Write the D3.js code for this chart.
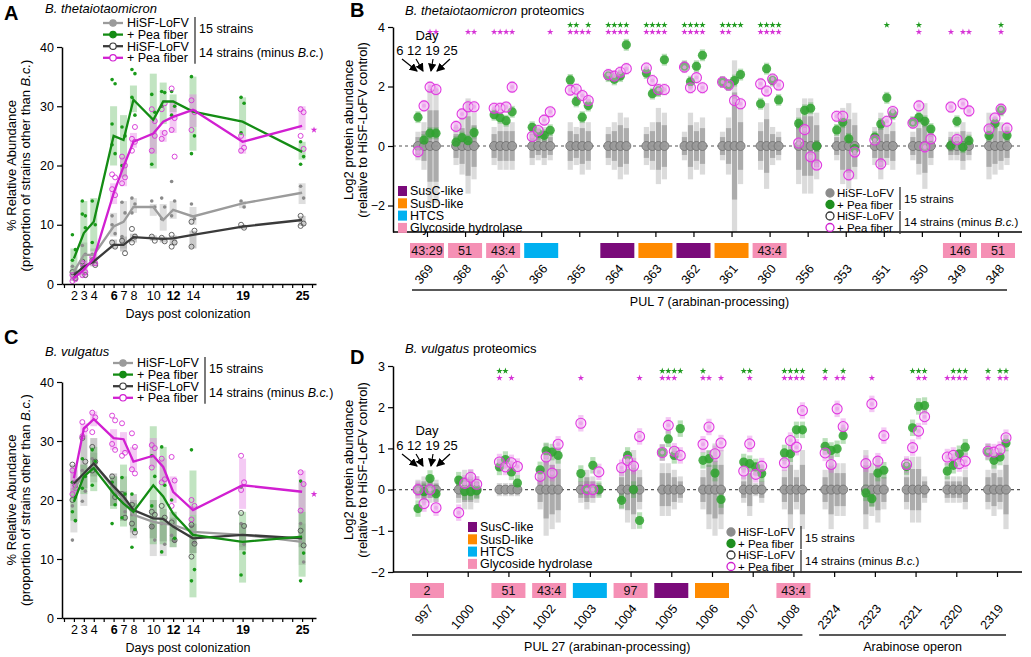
<!DOCTYPE html>
<html>
<head>
<meta charset="utf-8">
<script src="https://cdn.jsdelivr.net/npm/d3@7"></script>
<style>
  body { margin: 0; background: #fff; }
  svg { font-family: Arial, "Liberation Sans", sans-serif; }
</style>
</head>
<body>
<svg id="chart" width="1031" height="657"></svg>
<script>
/**
 * DATA
 * */
const tcDays = [2, 3, 4, 6, 7, 8, 10, 11, 12, 14, 19, 25];
const tcTickDays = [2, 3, 4, 6, 7, 8, 10, 12, 14, 19, 25];
const tcBoldDays = [6, 12, 19, 25];

// Panel A - B. thetaiotaomicron relative abundance (means)
const thetaHisf15 = [2.1, 4.9, 4.9, 9.7, 10.5, 13.0, 13.0, 10.8, 12.5, 11.4, 13.6, 15.4];
const thetaPea15  = [4.3, 8.6, 10.5, 25.0, 24.3, 31.1, 27.7, 30.8, 30.8, 29.1, 27.4, 22.3];
const thetaHisf14 = [1.5, 2.9, 3.8, 6.6, 6.6, 7.9, 7.7, 7.6, 7.7, 8.3, 9.7, 10.8];
const thetaPea14  = [1.0, 2.4, 4.3, 15.3, 19.8, 24.0, 25.4, 27.4, 28.2, 29.4, 24.0, 26.7];
// ranges [lo, hi]
const thetaHisf15Box = [[1.5,3],[3,7],[4,6],[8,12],[6,14],[12,14.5],[11.5,13.5],[9,13.5],[11,14],[10,13],[12.8,14],[13.5,17]];
const thetaPea15Box  = [[0.5,6],[4,14],[5.5,14.5],[20,30],[18,28.5],[29,33.5],[19.5,35.5],[27,34],[29,32],[22.5,35],[25,31.5],[21,24]];
const thetaHisf14Box = [[0.8,2],[1.5,4],[3,4.5],[6,7.5],[5.5,8],[7,8.5],[7.3,8.2],[7,8],[6.5,8.2],[6,9],[9.3,10],[9.8,11.5]];
const thetaPea14Box  = [[0.5,2],[1,4],[3,5],[13.5,17],[16.5,21.5],[23,25.5],[22,28],[24,26],[25.5,31],[26.5,32],[22,25],[26,30]];
// replicate mice
const thetaHisf15Dots = [[3,2],[6.5,5,3],[5],[11.5,8.5,10],[13.8,12,8],[14.5,13.5,12],[14,13],[14.5,13,11],[17.3,14,11.5],[13.5,11],[14,13],[16.5,14.5]];
const thetaPea15Dots  = [[8.3,5.8,4],[14,11.5,11.8,9.5],[14,10,7],[34.5,33.8,27,22,23.5],[26.5,25,20],[36.2,35.5,31.5,28.5],[32,29,20.2],[32.5,32.3,30],[32.5,30,28.5],[35,25,22],[31.5,30.5,25.5],[24,21.5,20.2]];
const thetaHisf14Dots = [[2,1],[3.8,1.5],[4,3.2],[7,6.3],[7.3,5.2],[9.3,8,7],[8,7.3],[7.8,7.2],[8.3,7,6.3],[10.5,9,6.3],[10,9.5],[11.5,10.2,9.8]];
const thetaPea14Dots  = [[1.5,0.8,0.5],[3.5,2,1.5],[4.5,3.5],[18.5,18,16,15],[21.5,20,17,18],[24.5,24,22.5,26.5],[29.5,25,22.5,27.5],[29.5,25.5,24.5,30.5],[33,28,26,21.5],[31,29,26],[25,23,22.5],[29.5,29,25,22.8]];

// Panel C - B. vulgatus relative abundance
const vulgHisf15 = [21.7, 24.5, 26.2, 22.0, 20.0, 17.5, 16.3, 16.0, 15.8, 14.6, 14.1, 12.9];
const vulgPea15  = [19.7, 24.0, 25.4, 21.1, 19.4, 18.0, 22.5, 20.6, 17.7, 14.1, 12.9, 13.8];
const vulgHisf14 = [22.8, 24.5, 26.2, 22.3, 20.6, 18.3, 16.9, 16.8, 15.5, 13.5, 14.1, 13.5];
const vulgPea14  = [23.7, 32.1, 33.7, 30.5, 30.3, 26.5, 27.5, 25.6, 21.4, 18.3, 22.5, 21.4];
const vulgHisf15Box = [[14.5,20],[19,26],[23,28],[19,24],[16.5,24],[13.5,20],[10.5,16],[10.5,17],[12,18],[11,17.5],[12,16],[9,16]];
const vulgPea15Box  = [[16.5,22],[21,26],[21.5,29],[18.5,24],[15.5,26],[15,19.5],[12.5,32.5],[12.5,29],[12,18],[3.5,25],[6,18],[7,23]];
const vulgHisf14Box = [[20,26],[22,31],[24,30.5],[19,24.5],[16.5,21.5],[14.5,21],[13.5,20],[13,18.5],[13,17],[11,16],[11.5,16],[12,18]];
const vulgPea14Box  = [[21,25],[31,33],[32.5,35],[28.5,32],[28,31.5],[25,29],[25.5,30.5],[23,27],[19.5,24],[17.5,19],[18.5,27],[18,25]];
const vulgHisf15Dots = [[19,16.5,13.2],[25,21.5,19.8],[27,25],[23,21],[20.5,18],[17.5,15],[15.5,13.2],[16,12.5],[14,13],[15.5,12.8],[16,12.5],[16,9.5]];
const vulgPea15Dots  = [[23,20.5,18,16.5],[27,24,22],[28.5,26.5,22.5],[23,19.2,16],[23.8,21,17],[21,15,12],[27.5,24,19],[29,22.5,11.2],[20,13.5],[28.5,8.2,6.3],[22.2,11,7.3],[23.2,11,6.3]];
const vulgHisf14Dots = [[26,22.5,20],[30.5,26.5],[29,26.5,25],[24,20.5],[21,17],[19.2,14.5,16],[18,17.5,15.5],[19,17],[16.2,13.2],[15.8,12.6,10.4],[17.8,15.6],[14.8,12.3]];
const vulgPea14Dots  = [[25,23,21,22],[33.2,32,30.8],[34.8,34,31.5],[34.3,33.5,29.5,28.5],[33,28,27.5],[31.3,29,25.2,24.5],[29.3,28.8,25.5],[27,23.5,23],[27.3,23.3,19],[20,19,16.7],[27.5,23,21.7],[24.7,22.7,18.2]];

// Panels B / D - proteomics, log2 fold change vs HiSF-LoFV, days 6 12 19 25
const protDays = ["6", "12", "19", "25"];

const thetaGenes = ["369","368","367","366","365","364","363","362","361","360","356","353","351","350","349","348"];
const thetaBoxes = ["43:29","51","43:4","HTCS","","SusC","SusD","SusC","SusD","43:4","","","","","146","51"];
const thetaGreen = [
  [0.97, 0.20, 0.43, 0.43], [0.13, 0.28, 0.18, 0.45], [1.05, 0.95, 0.85, 1.15], [0.63, 0.42, 0.36, 0.53],
  [2.22, 1.50, 0.97, 1.36], [2.35, 2.24, 2.35, 3.40], [2.45, 1.76, 1.85, 2.90], [2.68, 2.16, 2.68, 3.05],
  [2.15, 2.05, 2.20, 2.40], [1.42, 2.60, 2.20, 1.55], [0.76, 1.20, 1.27, 0.00], [0.54, 0.80, 0.24, -0.09],
  [0.30, 0.74, 1.62, 1.07], [0.80, 0.96, 0.83, 0.57], [0.02, 0.83, -0.04, 0.18], [0.35, 0.76, 1.20, 0.35]
];
const thetaMag = [
  [-0.19, 1.35, 1.98, 1.90], [0.66, 1.08, 1.32, 1.32], [1.27, 1.27, 1.31, 1.98], [0.32, 0.52, 0.87, 1.15],
  [1.88, 1.91, 1.70, 1.53], [2.40, 2.35, 2.48, 2.60], [2.62, 2.20, 1.90, 1.90], [2.65, 1.96, 2.30, 1.96],
  [2.15, 2.05, 1.53, 1.42], [2.09, 1.85, 2.25, 2.05], [0.10, 0.55, -0.36, -0.64], [1.00, 1.00, -0.97, -0.20],
  [0.20, -0.60, 0.83, 1.16], [0.77, 1.35, -0.03, 0.24], [1.31, 0.22, 1.42, 1.18], [0.57, 0.94, 1.24, 0.60]
];
const thetaGreySpread = [
  [0.3,0.5,1.2,1.2],[0.4,0.6,1.0,0.7],[0.4,0.5,0.5,0.5],[0.4,0.3,0.4,0.3],[0.5,0.4,0.6,0.5],[0.4,0.5,0.7,0.6],
  [0.4,0.5,0.8,0.7],[0.3,0.7,0.5,0.6],[0.3,0.6,1.8,0.8],[0.5,0.9,0.4,0.3],[0.8,1.0,1.0,0.7],[0.3,0.8,0.9,0.7],
  [0.4,0.7,0.4,0.5],[0.3,0.6,0.9,0.4],[0.3,0.3,0.5,0.3],[0.7,0.6,0.5,0.4]
];
const thetaGreenStars = ["0000","0000","0000","0000","1101","1111","1111","1111","1111","1111","0000","0000","0010","0100","0000","0010"];
const thetaMagStars   = ["0011","0011","1111","0001","1111","1111","1111","1111","1100","1111","0000","0000","0000","0100","1011","0010"];

const vulgGenes = ["997","1000","1001","1002","1003","1004","1005","1006","1007","1008","2324","2323","2321","2320","2319"];
const vulgBoxes = ["2","","51","43:4","HTCS","97","SusC","SusD","","43:4","","","","",""];
const vulgGreen = [
  [-0.46, -0.05, 0.27, -0.10], [0.23, -0.05, -0.05, -0.03], [0.55, 0.73, 0.43, 0.16], [0.48, 0.94, 0.91, 0.83],
  [0.39, 0.00, 0.59, 0.00], [-0.26, 0.83, 0.00, -0.75], [0.90, 1.23, 0.83, 1.48], [0.71, 0.75, 0.40, -0.24],
  [0.67, 0.63, 0.55, 0.39], [0.89, 0.87, 1.45, 1.45], [1.05, 0.95, 0.99, 1.31], [-0.08, -0.22, 0.40, 0.47],
  [0.56, 1.50, 2.02, 2.04], [0.45, 0.59, 0.87, 1.03], [0.91, 0.71, 0.79, 1.13]
];
const vulgMag = [
  [0.00, -0.34, 0.00, -0.44], [-0.56, 0.15, 0.30, 0.13], [0.67, 0.55, 0.65, 0.56], [0.32, 0.79, 0.40, 1.10],
  [1.61, 0.00, 0.00, 0.43], [0.53, 0.71, 0.57, 1.29], [0.90, 1.56, 0.93, 0.83], [1.10, 1.52, 0.87, 1.13],
  [0.45, 1.11, 0.37, 0.57], [0.65, 1.19, 1.03, 1.92], [0.89, 0.61, 1.96, 1.53], [0.63, 2.08, 0.69, 1.31],
  [0.61, 1.02, 1.42, 1.77], [0.79, 0.83, 0.63, 0.69], [0.93, 0.91, 0.97, 1.26]
];
const vulgGreySpread = [
  [0.15,0.2,0.2,0.15],[0.2,0.3,0.3,0.2],[0.1,0.1,0.1,0.1],[0.3,0.7,0.6,0.5],[0.2,0.3,0.2,0.1],
  [0.3,0.5,0.6,0.3],[0.4,0.4,0.3,0.2],[0.3,0.6,0.7,0.6],[0.2,0.4,0.1,0.2],[0.3,0.6,0.3,0.6],
  [0.3,0.6,0.4,0.4],[0.6,0.4,0.5,0.3],[0.3,0.5,0.5,0.2],[0.2,0.2,0.2,0.3],[0.3,0.4,0.3,0.6]
];
const vulgGreenStars = ["0000","0000","1100","0000","0000","0000","1111","1000","1100","1111","1001","0000","0111","0111","1011"];
const vulgMagStars   = ["0000","0000","1010","0000","1000","0001","1110","1101","0100","1111","1011","0100","0011","1111","1011"];

const domainLegend = ["SusC-like", "SusD-like", "HTCS", "Glycoside hydrolase"];

/**
 * STYLE
 * */
const svg = d3.select("#chart");
const domainColor = { SusC: "#7a0a7a", SusD: "#ff8a00", HTCS: "#00b0f0", GH: "#f590b5" };
const legendColor = ["#7a0a7a", "#ff8a00", "#00b0f0", "#f590b5"];
const fmtTick = d => d < 0 ? "\u2212" + (-d) : String(d);

svg.append("defs").append("marker")
  .attr("id", "arr").attr("viewBox", "0 0 8 8").attr("refX", 7).attr("refY", 4)
  .attr("markerWidth", 7).attr("markerHeight", 7).attr("orient", "auto")
  .append("path").attr("d", "M0,0 L8,4 L0,8 Z").attr("fill", "#000");

function styleAxis(sel) {
  sel.select(".domain").attr("stroke", "#000").attr("stroke-width", 1.5);
  sel.selectAll(".tick line").attr("stroke", "#000").attr("stroke-width", 1.2);
  sel.selectAll(".tick text").attr("fill", "#000").attr("font-size", 12.5)
    .attr("font-family", "Arial, 'Liberation Sans', sans-serif");
}

/**
 * TIME COURSE PANELS (A, C)
 * */
function timeCourse(p) {
  const g = svg.append("g");
  const x = d3.scaleLinear([0.8, 26.4], [62, 316]);
  const y = d3.scaleLinear([0, 40], [p.yBottom, p.yTop]);

  const series = [
    { mean: p.hisf15, box: p.hisf15Box, dots: p.hisf15Dots, line: "#9b9b9b", boxFill: "#c8c8c8", boxOp: 0.6, dot: "#8a8a8a", open: false },
    { mean: p.hisf14, box: p.hisf14Box, dots: p.hisf14Dots, line: "#3a3a3a", boxFill: "#8a8a8a", boxOp: 0.45, dot: "#555", open: true },
    { mean: p.pea15, box: p.pea15Box, dots: p.pea15Dots, line: "#148c14", boxFill: "#5cb85c", boxOp: 0.38, dot: "#1a9a1a", open: false },
    { mean: p.pea14, box: p.pea14Box, dots: p.pea14Dots, line: "#d11fd1", boxFill: "#e47ae4", boxOp: 0.4, dot: "#d633d6", open: true }
  ];

  series.forEach(s => {
    g.selectAll(null)
      .data(s.box.map((b, i) => ({ day: tcDays[i], lo: b[0], hi: b[1] })))
      .join("rect")
      .attr("x", d => x(d.day) - 3.5).attr("width", 7)
      .attr("y", d => y(d.hi)).attr("height", d => y(d.lo) - y(d.hi))
      .attr("fill", s.boxFill).attr("opacity", s.boxOp);
  });

  series.forEach(s => {
    const pts = s.dots.flatMap((vals, i) => vals.map((v, k) => ({ day: tcDays[i], v, k })));
    g.selectAll(null).data(pts).join("circle")
      .attr("cx", d => x(d.day) + (d.k % 2 ? 1.5 : -1.5))
      .attr("cy", d => y(d.v))
      .attr("r", s.open ? 2.5 : 1.8)
      .attr("fill", s.open ? "none" : s.dot)
      .attr("stroke", s.open ? s.dot : "none")
      .attr("stroke-width", 0.9);
  });

  const line = d3.line().x((d, i) => x(tcDays[i])).y(d => y(d));
  series.forEach(s => {
    g.append("path").datum(s.mean).attr("d", line)
      .attr("fill", "none").attr("stroke", s.line).attr("stroke-width", 2.3);
  });

  // magenta significance star at the right end
  g.append("path")
    .attr("d", d3.symbol(d3.symbolStar, 14)())
    .attr("transform", `translate(${x(26.2)},${y(p.starValue)})`)
    .attr("fill", "#d633d6");

  // axes
  const ya = g.append("g").attr("transform", "translate(62,0)")
    .call(d3.axisLeft(y).tickValues([0, 10, 20, 30, 40]).tickSize(5).tickSizeOuter(0));
  styleAxis(ya);
  const xa = g.append("g").attr("transform", `translate(0,${p.yBottom})`)
    .call(d3.axisBottom(x).tickValues(d3.range(1, 27))
      .tickFormat(d => tcTickDays.includes(d) ? d : "").tickSize(4).tickSizeOuter(0));
  styleAxis(xa);
  xa.selectAll(".tick text").attr("font-weight", d => tcBoldDays.includes(d) ? "bold" : "normal");

  g.append("text").attr("x", 188).attr("y", p.yBottom + 34)
    .attr("text-anchor", "middle").attr("font-size", 12.5).text("Days post colonization");

  const cy = (p.yTop + p.yBottom) / 2;
  g.append("text").attr("transform", `translate(16,${cy}) rotate(-90)`)
    .attr("text-anchor", "middle").attr("font-size", 13).text("% Relative Abundance");
  const yl2 = g.append("text").attr("transform", `translate(30,${cy}) rotate(-90)`)
    .attr("text-anchor", "middle").attr("font-size", 13);
  yl2.append("tspan").text("(proportion of strains other than ");
  yl2.append("tspan").attr("font-style", "italic").text("B.c.");
  yl2.append("tspan").text(")");

  // panel letter + title
  g.append("text").attr("x", 4).attr("y", p.letterY).attr("font-size", 20).attr("font-weight", "bold").text(p.letter);
  g.append("text").attr("x", 45).attr("y", p.titleY).attr("font-size", 13).attr("font-style", "italic").text(p.title);

  // legend
  const lx = p.legX, ly = p.legY, step = 11.6;
  const legRows = [
    { label: "HiSF-LoFV", s: series[0] }, { label: "+ Pea fiber", s: series[2] },
    { label: "HiSF-LoFV", s: series[1] }, { label: "+ Pea fiber", s: series[3] }
  ];
  legRows.forEach((r, i) => {
    const yy = ly + i * step;
    g.append("line").attr("x1", lx).attr("x2", lx + 20).attr("y1", yy).attr("y2", yy)
      .attr("stroke", r.s.line).attr("stroke-width", 2.3);
    g.append("circle").attr("cx", lx + 10).attr("cy", yy).attr("r", 3.2)
      .attr("fill", r.s.open ? "#fff" : r.s.line).attr("stroke", r.s.line).attr("stroke-width", 1.2);
    g.append("text").attr("x", lx + 24).attr("y", yy + 4.3).attr("font-size", 12.5).text(r.label);
  });
  const bx = lx + 92;
  g.append("line").attr("x1", bx).attr("x2", bx).attr("y1", ly - 6).attr("y2", ly + step + 6).attr("stroke", "#333").attr("stroke-width", 1.3);
  g.append("line").attr("x1", bx).attr("x2", bx).attr("y1", ly + 2 * step - 6).attr("y2", ly + 3 * step + 6).attr("stroke", "#333").attr("stroke-width", 1.3);
  g.append("text").attr("x", bx + 4).attr("y", ly + step / 2 + 4.5).attr("font-size", 12.5).text("15 strains");
  const t14 = g.append("text").attr("x", bx + 4).attr("y", ly + 2.5 * step + 4.5).attr("font-size", 12.5);
  t14.append("tspan").text("14 strains (minus ");
  t14.append("tspan").attr("font-style", "italic").text("B.c.");
  t14.append("tspan").text(")");
}

/**
 * PROTEOMICS PANELS (B, D)
 * */
function proteomics(p) {
  const g = svg.append("g");
  const x = d3.scalePoint(p.genes, [427, p.xLast]);
  const off = d3.scalePoint(protDays, [-9, 9]);
  const y = d3.scaleLinear(p.yDomain, p.yRange);

  const cells = p.genes.flatMap((gene, gi) => protDays.map((day, di) => ({
    gene, day,
    cx: x(gene) + off(day),
    green: p.green[gi][di], mag: p.mag[gi][di], spread: p.spread[gi][di],
    gs: p.greenStars[gi][di] === "1", ms: p.magStars[gi][di] === "1"
  })));

  // grey control variability bars
  g.selectAll(null).data(cells).join("rect")
    .attr("x", d => d.cx - 2.6).attr("width", 5.2)
    .attr("y", d => y(d.spread * 1.6)).attr("height", d => y(-d.spread * 1.6) - y(d.spread * 1.6))
    .attr("fill", "#cfcfcf").attr("opacity", 0.75);
  g.selectAll(null).data(cells).join("rect")
    .attr("x", d => d.cx - 2.6).attr("width", 5.2)
    .attr("y", d => y(d.spread)).attr("height", d => y(-d.spread) - y(d.spread))
    .attr("fill", "#8c8c8c").attr("opacity", 0.6);

  // coloured bars
  g.selectAll(null).data(cells).join("rect")
    .attr("x", d => d.cx - 2.6).attr("width", 5.2)
    .attr("y", d => y(d.green + p.barHalf)).attr("height", d => y(d.green - p.barHalf) - y(d.green + p.barHalf))
    .attr("fill", "#3aa53a").attr("opacity", 0.35);
  g.selectAll(null).data(cells).join("rect")
    .attr("x", d => d.cx - 2.6).attr("width", 5.2)
    .attr("y", d => y(d.mag + p.barHalf)).attr("height", d => y(d.mag - p.barHalf) - y(d.mag + p.barHalf))
    .attr("fill", "#e060e0").attr("opacity", 0.35);

  // zero reference line
  g.append("line").attr("x1", 393).attr("x2", 1022).attr("y1", y(0)).attr("y2", y(0))
    .attr("stroke", "#555").attr("stroke-width", 1.2).attr("stroke-dasharray", "3,3");

  // control points at 0
  g.selectAll(null).data(cells).join("circle")
    .attr("cx", d => d.cx).attr("cy", y(0)).attr("r", 4.5)
    .attr("fill", "#9a9a9a").attr("stroke", "#6e6e6e").attr("stroke-width", 0.8).attr("fill-opacity", 0.9);

  // pea fiber, 15 strains
  g.selectAll(null).data(cells).join("circle")
    .attr("cx", d => d.cx).attr("cy", d => y(d.green)).attr("r", 4.6)
    .attr("fill", "#2ea22e").attr("opacity", 0.85);

  // pea fiber, 14 strains
  g.selectAll(null).data(cells).join("circle")
    .attr("cx", d => d.cx).attr("cy", d => y(d.mag)).attr("r", 5)
    .attr("fill", "#f2b6f2").attr("fill-opacity", 0.35)
    .attr("stroke", "#e03ae0").attr("stroke-width", 1.1);
  g.selectAll(null).data(cells).join("circle")
    .attr("cx", d => d.cx).attr("cy", d => y(d.mag)).attr("r", 2)
    .attr("fill", "#eaa0ea").attr("opacity", 0.8);

  // significance stars
  const star = d3.symbol(d3.symbolStar, 13)();
  g.selectAll(null).data(cells.filter(d => d.gs)).join("path")
    .attr("d", star).attr("transform", d => `translate(${d.cx},${p.starY})`).attr("fill", "#1f9a1f");
  g.selectAll(null).data(cells.filter(d => d.ms)).join("path")
    .attr("d", star).attr("transform", d => `translate(${d.cx},${p.starY + 7})`).attr("fill", "#d633d6");

  // axes
  const ya = g.append("g").attr("transform", "translate(393,0)")
    .call(d3.axisLeft(y).tickValues(p.yTicks).tickFormat(fmtTick).tickSize(5).tickSizeOuter(0));
  styleAxis(ya);
  const axisY = p.yRange[0];
  g.append("line").attr("x1", 393).attr("x2", 1022).attr("y1", axisY).attr("y2", axisY)
    .attr("stroke", "#000").attr("stroke-width", 1.5);
  const xa = g.append("g").attr("transform", `translate(0,${axisY})`)
    .call(d3.axisBottom(x).tickSize(5).tickFormat(""));
  xa.select(".domain").remove();
  xa.selectAll(".tick line").attr("stroke", "#000").attr("stroke-width", 1.2);

  // domain boxes
  const boxY = axisY + 11;
  const boxData = p.genes.map((gene, i) => ({ gene, b: p.boxes[i] })).filter(d => d.b !== "");
  g.selectAll(null).data(boxData).join("rect")
    .attr("x", d => x(d.gene) - 17).attr("width", 34).attr("y", boxY).attr("height", 15)
    .attr("fill", d => domainColor[d.b] || domainColor.GH);
  g.selectAll(null).data(boxData.filter(d => !domainColor[d.b])).join("text")
    .attr("x", d => x(d.gene)).attr("y", boxY + 12).attr("text-anchor", "middle")
    .attr("font-size", 12.5).attr("fill", "#111").text(d => d.b);

  // gene numbers, slanted
  g.selectAll(null).data(p.genes).join("text")
    .attr("x", d => x(d) + 7).attr("y", boxY + 26)
    .attr("transform", d => `rotate(-50,${x(d) + 7},${boxY + 26})`)
    .attr("text-anchor", "end").attr("font-size", 12.5).text(d => d);

  // locus brackets
  p.loci.forEach(l => {
    const x1 = x(l.from) - 15, x2 = x(l.to) + 9;
    g.append("line").attr("x1", x1).attr("x2", x2).attr("y1", p.lociY).attr("y2", p.lociY)
      .attr("stroke", "#222").attr("stroke-width", 1.6);
    g.append("text").attr("x", (x1 + x2) / 2).attr("y", p.lociY + 16).attr("text-anchor", "middle")
      .attr("font-size", 12.5).text(l.label);
  });

  // y label
  const cy = p.yLabelCenter;
  g.append("text").attr("transform", `translate(353,${cy}) rotate(-90)`)
    .attr("text-anchor", "middle").attr("font-size", 13).text("Log2 protein abundance");
  g.append("text").attr("transform", `translate(367,${cy}) rotate(-90)`)
    .attr("text-anchor", "middle").attr("font-size", 13).text("(relative to HiSF-LoFV control)");

  // letter + title
  g.append("text").attr("x", p.letterX).attr("y", p.letterY).attr("font-size", 20).attr("font-weight", "bold").text(p.letter);
  const tt = g.append("text").attr("x", 405).attr("y", p.titleY).attr("font-size", 13);
  tt.append("tspan").attr("font-style", "italic").text(p.species);
  tt.append("tspan").text(" proteomics");

  // day annotation
  const cx0 = x(p.genes[0]);
  g.append("text").attr("x", cx0).attr("y", p.dayY).attr("text-anchor", "middle").attr("font-size", 13).text("Day");
  g.append("text").attr("x", cx0).attr("y", p.dayY + 15).attr("text-anchor", "middle")
    .attr("font-size", 13).attr("xml:space", "preserve").text("6 12 19 25");
  const labOff = [-25, -11, 6, 23];
  protDays.forEach((d, i) => {
    g.append("line")
      .attr("x1", cx0 + labOff[i]).attr("y1", p.dayY + 19)
      .attr("x2", cx0 + off(d) - (i < 2 ? 1 : -1)).attr("y2", p.dayY + 31)
      .attr("stroke", "#000").attr("stroke-width", 1.2).attr("marker-end", "url(#arr)");
  });

  // domain legend
  domainLegend.forEach((lab, i) => {
    const yy = p.domLeg.y + i * 12.3;
    g.append("rect").attr("x", p.domLeg.x).attr("y", yy - 5).attr("width", 9).attr("height", 10).attr("fill", legendColor[i]);
    g.append("text").attr("x", p.domLeg.x + 12).attr("y", yy + 4.3).attr("font-size", 12.5).text(lab);
  });

  // treatment legend
  const L = p.treatLeg;
  const rows = [
    { lab: "HiSF-LoFV", fill: "#8c8c8c", stroke: "#8c8c8c" },
    { lab: "+ Pea fiber", fill: "#1f8f1f", stroke: "#1f8f1f" },
    { lab: "HiSF-LoFV", fill: "#fff", stroke: "#333" },
    { lab: "+ Pea fiber", fill: "#fff", stroke: "#d020d0" }
  ];
  rows.forEach((r, i) => {
    const yy = L.y + i * 11.5;
    g.append("circle").attr("cx", L.x).attr("cy", yy).attr("r", 4)
      .attr("fill", r.fill).attr("stroke", r.stroke).attr("stroke-width", 1.3);
    g.append("text").attr("x", L.x + 7).attr("y", yy + 4).attr("font-size", 11.5).text(r.lab);
  });
  const bx = L.x + 70;
  g.append("line").attr("x1", bx).attr("x2", bx).attr("y1", L.y - 6).attr("y2", L.y + 17).attr("stroke", "#333").attr("stroke-width", 1.3);
  g.append("line").attr("x1", bx).attr("x2", bx).attr("y1", L.y + 18).attr("y2", L.y + 41).attr("stroke", "#333").attr("stroke-width", 1.3);
  g.append("text").attr("x", bx + 4).attr("y", L.y + 10).attr("font-size", 11.5).text("15 strains");
  const t14 = g.append("text").attr("x", bx + 4).attr("y", L.y + 33).attr("font-size", 11.5);
  t14.append("tspan").text("14 strains (minus ");
  t14.append("tspan").attr("font-style", "italic").text("B.c.");
  t14.append("tspan").text(")");
}

/**
 * DRAW
 * */
timeCourse({
  letter: "A", letterY: 20, title: "B. thetaiotaomicron", titleY: 13,
  yTop: 47, yBottom: 284, legX: 103, legY: 23, starValue: 26,
  hisf15: thetaHisf15, pea15: thetaPea15, hisf14: thetaHisf14, pea14: thetaPea14,
  hisf15Box: thetaHisf15Box, pea15Box: thetaPea15Box, hisf14Box: thetaHisf14Box, pea14Box: thetaPea14Box,
  hisf15Dots: thetaHisf15Dots, pea15Dots: thetaPea15Dots, hisf14Dots: thetaHisf14Dots, pea14Dots: thetaPea14Dots
});

timeCourse({
  letter: "C", letterY: 344, title: "B. vulgatus", titleY: 356,
  yTop: 382, yBottom: 618, legX: 113, legY: 363, starValue: 21,
  hisf15: vulgHisf15, pea15: vulgPea15, hisf14: vulgHisf14, pea14: vulgPea14,
  hisf15Box: vulgHisf15Box, pea15Box: vulgPea15Box, hisf14Box: vulgHisf14Box, pea14Box: vulgPea14Box,
  hisf15Dots: vulgHisf15Dots, pea15Dots: vulgPea15Dots, hisf14Dots: vulgHisf14Dots, pea14Dots: vulgPea14Dots
});

proteomics({
  letter: "B", letterX: 350, letterY: 17, species: "B. thetaiotaomicron", titleY: 15,
  genes: thetaGenes, boxes: thetaBoxes, green: thetaGreen, mag: thetaMag, spread: thetaGreySpread,
  greenStars: thetaGreenStars, magStars: thetaMagStars,
  xLast: 998, yDomain: [-2.89, 4], yRange: [232, 27], yTicks: [-2, 0, 2, 4], barHalf: 0.2,
  starY: 25, dayY: 40, yLabelCenter: 130, lociY: 290,
  loci: [{ label: "PUL 7 (arabinan-processing)", from: "369", to: "348" }],
  domLeg: { x: 398, y: 191 }, treatLeg: { x: 830, y: 193 }
});

proteomics({
  letter: "D", letterX: 350, letterY: 364, species: "B. vulgatus", titleY: 353,
  genes: vulgGenes, boxes: vulgBoxes, green: vulgGreen, mag: vulgMag, spread: vulgGreySpread,
  greenStars: vulgGreenStars, magStars: vulgMagStars,
  xLast: 997, yDomain: [-2, 3], yRange: [572, 366], yTicks: [-2, -1, 0, 1, 2, 3], barHalf: 0.2,
  starY: 371, dayY: 435, yLabelCenter: 470, lociY: 635,
  loci: [
    { label: "PUL 27 (arabinan-processing)", from: "997", to: "1008" },
    { label: "Arabinose operon", from: "2324", to: "2319" }
  ],
  domLeg: { x: 468, y: 527 }, treatLeg: { x: 731, y: 532 }
});
</script>
</body>
</html>
